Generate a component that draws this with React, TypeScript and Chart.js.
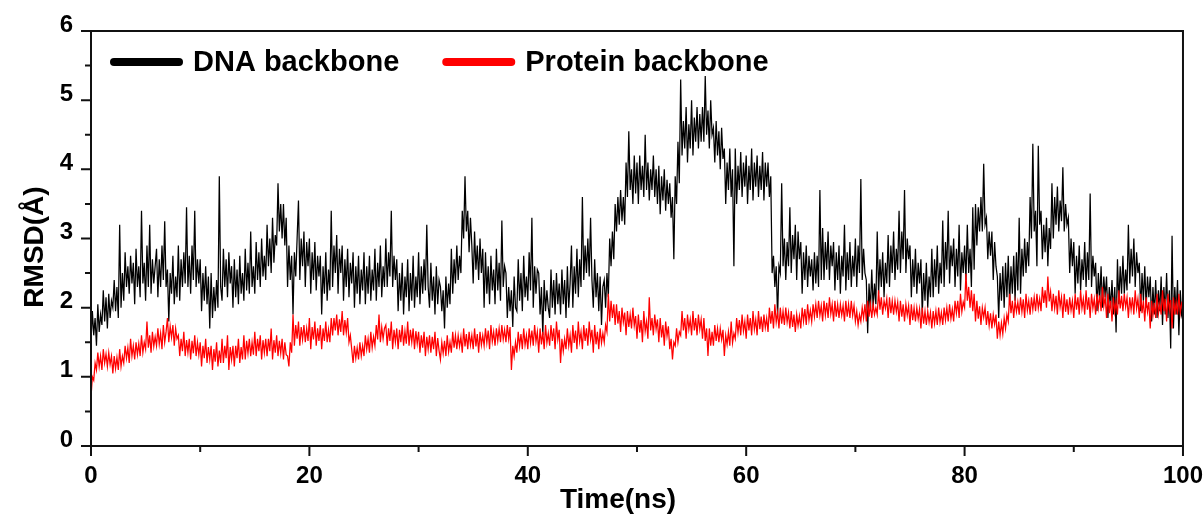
import React, { useEffect, useRef } from "react";
import { Chart, registerables } from "chart.js";

Chart.register(...registerables);

const TIME_STEP_NS = 0.125;
const X_MIN = 0;
const X_MAX = 100;
const Y_MIN = 0;
const Y_MAX = 6;
const X_MAJOR_STEP = 20;
const X_MINOR_STEP = 10;
const Y_MAJOR_STEP = 1;
const Y_MINOR_STEP = 0.5;
const SERIES_LABELS = ["DNA backbone", "Protein backbone"];
const SERIES_COLORS = ["#000000", "#ff0000"];
const X_TITLE = "Time(ns)";
const Y_TITLE = "RMSD(Å)";

const DNA_RMSD = [
  1.5, 1.95, 1.6, 1.85, 1.45, 2.05, 1.65, 1.9,
  1.75, 2.25, 1.8, 2.15, 1.7, 2.2, 1.85, 2.1,
  2.0, 2.4, 1.95, 2.3, 1.85, 3.2, 2.0, 2.5,
  2.1, 2.8, 2.3, 2.6, 2.2, 2.75, 2.35, 2.65,
  2.05, 2.85, 2.3, 2.6, 2.15, 3.4, 2.35, 2.65,
  2.1, 2.9, 2.3, 3.2, 2.2, 2.7, 2.35, 2.6,
  2.85, 2.15, 2.7, 2.3, 2.9, 2.4, 3.25, 2.3,
  2.55, 1.8, 2.5, 2.2, 2.75, 2.05, 2.45, 2.15,
  2.9, 2.1, 2.7, 2.3, 2.8, 2.35, 3.45, 2.3,
  2.75, 2.2, 2.9, 2.4, 3.4, 2.3, 2.7, 2.35,
  2.7, 1.95, 2.5, 2.1, 2.6, 2.05, 2.45, 1.7,
  2.5, 1.85, 2.3, 1.95, 2.4, 2.0, 3.9, 2.3,
  2.1, 2.85, 2.3, 2.7, 2.15, 2.8, 2.35, 2.6,
  2.0, 2.7, 2.15, 2.55, 2.05, 2.75, 2.2, 2.5,
  2.1, 2.85, 2.25, 2.65, 2.2, 3.1, 2.3, 2.6,
  2.2, 2.95, 2.4, 2.8, 2.3, 3.0, 2.45, 2.75,
  2.4, 3.2, 2.6, 3.0, 2.5, 3.3, 2.65, 3.05,
  2.9, 3.8, 3.1, 3.5, 3.0, 3.5, 2.9, 3.3,
  2.3, 2.9, 2.4, 2.75, 1.9, 2.8, 2.45, 3.0,
  3.55, 2.4, 3.0, 2.6, 3.1, 2.3, 2.95, 2.6,
  3.0, 2.2, 2.8, 2.4, 2.95, 2.25, 2.75, 2.45,
  2.75, 1.9, 2.6, 2.2, 2.8, 2.1, 2.55, 2.25,
  3.4, 2.3, 2.9, 2.5, 3.05, 2.2, 2.85, 2.5,
  2.9, 2.1, 2.7, 2.3, 2.85, 2.15, 2.65, 2.35,
  2.8, 2.0, 2.6, 2.2, 2.75, 2.05, 2.55, 2.25,
  2.8, 2.05, 2.6, 2.2, 2.75, 2.1, 2.55, 2.25,
  2.85, 2.1, 2.65, 2.3, 2.9, 2.15, 2.6, 2.3,
  3.0, 2.3, 2.8, 2.45, 3.4, 2.3, 2.75, 2.4,
  2.7, 1.95, 2.5, 2.1, 2.65, 1.9, 2.45, 2.15,
  2.7, 1.95, 2.5, 2.1, 2.75, 2.0, 2.45, 2.15,
  2.8, 2.05, 2.6, 2.2, 2.7, 2.25, 3.2, 2.3,
  2.0, 2.65, 2.1, 2.45, 1.9, 2.6, 2.05, 2.4,
  2.3, 1.95, 2.25, 1.7, 2.45, 2.0, 2.35, 2.05,
  2.85, 2.2, 2.7, 2.35, 2.9, 2.4, 2.75, 2.5,
  3.4, 3.0, 3.9, 3.1, 3.4, 2.8, 3.3, 2.9,
  2.35, 3.1, 2.55, 2.9, 2.4, 3.0, 2.5, 2.85,
  2.0, 2.8, 2.2, 2.6, 2.05, 2.75, 2.25, 2.55,
  2.05, 2.85, 2.25, 2.65, 2.1, 3.26, 2.3, 2.6,
  2.5, 1.85, 2.3, 1.95, 2.25, 1.72, 2.45, 2.0,
  1.95, 2.7, 2.1, 2.5, 1.95, 2.75, 2.15, 2.45,
  2.1, 2.8, 2.25, 3.3, 2.0, 2.6, 2.2, 2.55,
  2.5, 1.9, 2.3, 1.6, 2.4, 1.95, 2.25, 2.0,
  1.85, 2.55, 2.0, 2.4, 1.9, 2.5, 2.05, 2.35,
  1.9, 2.55, 2.05, 2.4, 1.85, 2.6, 2.0, 2.35,
  2.9, 2.0, 2.6, 2.2, 2.85, 2.15, 2.7, 2.3,
  3.6, 2.4, 2.9, 2.5, 3.0, 2.45, 3.3, 2.4,
  2.0, 2.7, 2.15, 2.5, 1.95, 2.45, 1.75, 2.3,
  2.4, 2.0, 2.5, 2.15, 3.0, 2.6, 3.1, 2.7,
  3.5, 3.1, 3.6, 3.2, 3.7, 3.25, 3.6, 3.2,
  4.1, 3.6, 4.55, 3.7, 4.0, 3.5, 4.2, 3.65,
  4.1, 3.5, 4.2, 3.7, 4.05, 3.6, 4.5, 3.7,
  4.1, 3.55, 4.0, 3.7, 4.2, 3.6, 4.0, 3.5,
  4.05, 3.35, 3.9, 3.55, 4.0, 3.4, 3.85, 3.5,
  3.8, 3.3, 3.6, 2.7, 3.9, 3.5, 4.4, 3.8,
  5.3, 4.2, 4.7, 4.3, 4.9, 4.1, 4.65, 4.3,
  5.0, 4.2, 4.75, 4.4, 4.9, 4.3, 4.8, 4.4,
  4.9, 4.4, 5.35, 4.5, 4.85, 4.3, 5.0, 4.5,
  4.6, 4.1, 4.7, 4.2, 4.55, 4.0, 4.6, 4.15,
  4.3, 3.5, 4.1, 3.7, 4.3, 3.6, 4.0, 2.6,
  4.3, 3.5, 4.05, 3.7, 4.25, 3.6, 4.1, 3.75,
  4.2, 3.5, 4.05, 3.7, 4.3, 3.55, 4.1, 3.75,
  4.2, 3.6, 4.05, 3.7, 4.25, 3.55, 4.1, 3.75,
  4.1, 3.6, 3.9, 2.5, 2.75, 2.3, 2.6, 1.86,
  2.6, 2.5, 3.8, 2.6, 3.0, 2.4, 2.95, 2.6,
  3.45, 2.5, 3.05, 2.7, 3.2, 2.4, 3.1, 2.7,
  2.95, 2.2, 2.8, 2.4, 2.9, 2.3, 2.75, 2.45,
  2.7, 2.25, 2.8, 2.35, 2.75, 2.3, 3.7, 2.4,
  3.15, 2.4, 2.95, 2.55, 3.1, 2.4, 2.9, 2.6,
  2.95, 2.25, 2.8, 2.4, 2.9, 2.2, 2.75, 2.45,
  3.2, 2.25, 2.8, 2.4, 2.95, 2.3, 2.75, 2.45,
  3.0, 2.3, 2.9, 2.5, 3.86, 2.4, 2.85, 2.5,
  2.4, 1.63, 2.35, 1.95, 2.55, 2.0, 2.35, 2.05,
  3.1, 2.2, 2.7, 2.3, 2.8, 2.15, 2.65, 2.35,
  3.05, 2.3, 2.9, 2.5, 3.1, 2.4, 2.85, 2.55,
  3.4, 2.5, 3.1, 2.7, 3.7, 2.5, 3.0, 2.7,
  2.9, 2.15, 2.7, 2.3, 2.85, 2.2, 2.65, 2.35,
  2.7, 1.9, 2.5, 2.1, 2.65, 2.0, 2.45, 2.15,
  2.85, 2.15, 2.7, 2.3, 2.9, 2.2, 2.65, 2.35,
  3.26, 2.3, 2.95, 2.55, 3.4, 2.35, 2.9, 2.6,
  3.0, 2.3, 2.85, 2.45, 3.2, 2.25, 2.8, 2.5,
  2.9, 2.4, 3.2, 2.5, 2.85, 2.3, 3.45, 2.55,
  3.5, 2.9, 3.45, 3.1, 3.6, 3.1, 4.08, 3.2,
  3.3, 2.7, 3.1, 2.75, 3.1, 2.4, 2.95, 2.6,
  2.45, 1.85, 2.5, 2.1, 2.6, 2.0, 2.65, 2.15,
  2.75, 2.05, 2.6, 2.2, 2.75, 2.1, 2.8, 2.25,
  3.3, 2.2, 2.85, 2.45, 3.0, 2.5, 2.95, 2.6,
  3.6, 3.0, 4.37, 3.1, 3.4, 2.6, 4.34, 3.2,
  3.4, 2.7, 3.2, 2.8, 3.3, 2.6, 3.15, 2.85,
  3.8, 3.0, 3.6, 3.2, 3.75, 3.1, 3.55, 3.25,
  4.03, 3.1, 3.5, 3.2, 3.3, 2.5, 3.0, 2.6,
  2.95, 2.2, 2.75, 2.35, 2.9, 2.25, 2.7, 2.4,
  2.95, 2.3, 2.8, 2.4, 3.65, 2.3, 2.75, 2.45,
  2.65, 1.95, 2.5, 2.1, 2.6, 2.0, 2.45, 2.15,
  2.45, 1.85, 2.3, 2.0, 2.4, 1.9, 2.3, 1.64,
  2.7, 2.05, 2.6, 2.2, 2.75, 2.2, 2.55, 2.25,
  3.2, 2.35, 2.85, 2.45, 3.0, 2.3, 2.8, 2.5,
  2.65, 1.95, 2.5, 2.1, 2.6, 2.0, 2.45, 2.15,
  2.45, 1.8, 2.3, 1.9, 2.4, 1.85, 2.25, 1.95,
  2.45, 1.75, 2.3, 1.9, 2.5, 1.85, 2.25, 1.41,
  3.04, 1.7, 2.3, 1.9, 2.4, 1.6, 2.25, 1.9,
  2.0,
];

const PROTEIN_RMSD = [
  0.7, 1.0, 0.95, 1.2, 1.1, 1.35, 1.15, 1.3,
  1.1, 1.4, 1.2, 1.33, 1.15, 1.35, 1.18, 1.3,
  1.05, 1.3, 1.12, 1.28, 1.1, 1.4, 1.15, 1.3,
  1.2, 1.45, 1.27, 1.42, 1.2, 1.55, 1.3, 1.45,
  1.25, 1.5, 1.32, 1.48, 1.3, 1.6, 1.35, 1.5,
  1.4, 1.8, 1.42, 1.6, 1.35, 1.65, 1.44, 1.58,
  1.45, 1.7, 1.47, 1.63, 1.4, 1.75, 1.5, 1.65,
  1.85, 1.5, 1.73, 1.57, 1.75, 1.45, 1.7, 1.55,
  1.6, 1.3, 1.55, 1.37, 1.65, 1.3, 1.53, 1.35,
  1.55, 1.25, 1.52, 1.34, 1.6, 1.3, 1.5, 1.32,
  1.5, 1.15, 1.45, 1.27, 1.55, 1.2, 1.43, 1.25,
  1.45, 1.1, 1.4, 1.22, 1.5, 1.15, 1.38, 1.2,
  1.55, 1.2, 1.45, 1.27, 1.6, 1.1, 1.43, 1.25,
  1.45, 1.15, 1.45, 1.27, 1.55, 1.2, 1.43, 1.25,
  1.6, 1.25, 1.52, 1.34, 1.55, 1.3, 1.5, 1.32,
  1.65, 1.3, 1.55, 1.37, 1.6, 1.25, 1.53, 1.35,
  1.55, 1.3, 1.55, 1.37, 1.7, 1.25, 1.53, 1.35,
  1.6, 1.3, 1.52, 1.34, 1.55, 1.25, 1.5, 1.32,
  1.3, 1.15, 1.5, 1.35, 1.9, 1.45, 1.75, 1.55,
  1.8, 1.45, 1.72, 1.54, 1.75, 1.5, 1.7, 1.52,
  1.85, 1.4, 1.72, 1.54, 1.8, 1.45, 1.7, 1.52,
  1.75, 1.4, 1.7, 1.52, 1.8, 1.5, 1.68, 1.5,
  1.85, 1.6, 1.85, 1.67, 1.9, 1.6, 1.83, 1.65,
  1.95, 1.6, 1.82, 1.64, 1.85, 1.5, 1.6, 1.4,
  1.2, 1.45, 1.27, 1.42, 1.25, 1.5, 1.3, 1.45,
  1.3, 1.6, 1.4, 1.55, 1.35, 1.65, 1.42, 1.58,
  1.45, 1.75, 1.54, 1.9, 1.5, 1.72, 1.55, 1.7,
  1.75, 1.45, 1.7, 1.52, 1.8, 1.4, 1.68, 1.5,
  1.7, 1.4, 1.68, 1.5, 1.75, 1.45, 1.66, 1.48,
  1.8, 1.45, 1.68, 1.5, 1.7, 1.4, 1.66, 1.48,
  1.65, 1.35, 1.6, 1.42, 1.65, 1.3, 1.58, 1.4,
  1.6, 1.35, 1.58, 1.4, 1.65, 1.3, 1.56, 1.38,
  1.25, 1.5, 1.34, 1.52, 1.3, 1.6, 1.36, 1.5,
  1.35, 1.65, 1.42, 1.6, 1.4, 1.6, 1.44, 1.58,
  1.35, 1.7, 1.44, 1.62, 1.4, 1.65, 1.46, 1.6,
  1.4, 1.7, 1.44, 1.62, 1.35, 1.65, 1.46, 1.6,
  1.45, 1.7, 1.49, 1.67, 1.4, 1.75, 1.51, 1.65,
  1.45, 1.7, 1.52, 1.7, 1.5, 1.75, 1.54, 1.68,
  1.5, 1.75, 1.55, 1.72, 1.1, 1.45, 1.3, 1.5,
  1.35, 1.65, 1.44, 1.62, 1.4, 1.7, 1.46, 1.6,
  1.4, 1.7, 1.49, 1.67, 1.45, 1.75, 1.51, 1.65,
  1.35, 1.7, 1.47, 1.65, 1.4, 1.75, 1.49, 1.63,
  1.45, 1.75, 1.52, 1.7, 1.4, 1.8, 1.54, 1.68,
  1.2, 1.55, 1.37, 1.55, 1.4, 1.7, 1.45, 1.6,
  1.35, 1.75, 1.49, 1.67, 1.4, 1.8, 1.51, 1.65,
  1.4, 1.75, 1.52, 1.7, 1.45, 1.8, 1.54, 1.68,
  1.35, 1.75, 1.47, 1.65, 1.4, 1.7, 1.49, 1.63,
  1.5, 1.75, 1.65, 2.2, 1.8, 2.1, 1.85, 2.05,
  1.75, 2.05, 1.77, 1.95, 1.65, 2.0, 1.79, 1.93,
  1.6, 1.95, 1.72, 1.9, 1.7, 2.0, 1.74, 1.88,
  1.55, 1.9, 1.64, 1.82, 1.5, 1.95, 1.66, 1.8,
  1.55, 2.15, 1.67, 1.85, 1.6, 1.9, 1.69, 1.83,
  1.5, 1.85, 1.57, 1.75, 1.45, 1.8, 1.59, 1.73,
  1.4, 1.55, 1.25, 1.5, 1.45, 1.7, 1.5, 1.65,
  1.6, 1.95, 1.67, 1.85, 1.55, 1.9, 1.69, 1.83,
  1.6, 1.95, 1.67, 1.85, 1.6, 1.9, 1.69, 1.83,
  1.55, 1.85, 1.52, 1.7, 1.3, 1.7, 1.45, 1.65,
  1.45, 1.75, 1.52, 1.7, 1.5, 1.7, 1.54, 1.68,
  1.3, 1.6, 1.47, 1.65, 1.45, 1.8, 1.49, 1.63,
  1.55, 1.85, 1.64, 1.82, 1.6, 1.9, 1.66, 1.8,
  1.55, 1.9, 1.67, 1.85, 1.6, 1.95, 1.69, 1.83,
  1.6, 1.95, 1.69, 1.87, 1.65, 1.9, 1.71, 1.85,
  1.65, 2.0, 1.77, 1.95, 1.7, 2.05, 1.79, 1.93,
  1.7, 2.0, 1.77, 1.95, 1.75, 2.0, 1.79, 1.93,
  1.7, 1.95, 1.72, 1.9, 1.65, 1.9, 1.74, 1.88,
  1.7, 2.0, 1.8, 1.98, 1.75, 2.05, 1.82, 1.96,
  1.8, 2.05, 1.87, 2.05, 1.85, 2.1, 1.89, 2.03,
  1.8, 2.1, 1.89, 2.07, 1.85, 2.15, 1.91, 2.05,
  1.8, 2.1, 1.87, 2.05, 1.85, 2.05, 1.89, 2.03,
  1.8, 2.1, 1.87, 2.05, 1.85, 2.1, 1.89, 2.03,
  1.8, 1.95, 1.75, 1.9, 1.8, 2.0, 1.85, 2.05,
  1.8, 2.1, 1.87, 2.05, 1.85, 2.05, 1.9, 2.0,
  1.9, 2.25, 1.97, 2.15, 1.9, 2.1, 1.99, 2.13,
  1.85, 2.15, 1.92, 2.1, 1.9, 2.1, 1.94, 2.08,
  1.8, 2.1, 1.87, 2.05, 1.8, 2.05, 1.89, 2.03,
  1.75, 2.05, 1.82, 2.0, 1.8, 2.0, 1.84, 1.98,
  1.7, 2.0, 1.77, 1.95, 1.75, 1.95, 1.79, 1.93,
  1.7, 1.95, 1.77, 1.95, 1.75, 2.0, 1.79, 1.93,
  1.75, 2.0, 1.82, 2.0, 1.8, 2.05, 1.84, 1.98,
  1.8, 2.1, 1.92, 2.1, 1.85, 2.2, 1.94, 2.08,
  2.0, 2.49, 2.1, 2.3, 2.0, 2.25, 1.95, 2.2,
  1.8, 2.1, 1.84, 2.02, 1.75, 2.0, 1.86, 2.0,
  1.75, 1.95, 1.74, 1.92, 1.7, 1.9, 1.76, 1.9,
  1.55, 1.8, 1.6, 1.78, 1.62, 1.85, 1.7, 1.9,
  1.8, 2.2, 1.92, 2.1, 1.85, 2.1, 1.94, 2.08,
  1.9, 2.15, 1.94, 2.12, 1.85, 2.2, 1.96, 2.1,
  1.9, 2.15, 1.97, 2.15, 1.95, 2.2, 1.99, 2.13,
  1.95, 2.3, 2.07, 2.25, 2.0, 2.45, 2.09, 2.23,
  1.95, 2.2, 1.99, 2.17, 1.9, 2.25, 2.01, 2.15,
  1.85, 2.2, 1.94, 2.12, 1.9, 2.15, 1.96, 2.1,
  1.85, 2.2, 1.97, 2.15, 1.9, 2.25, 1.99, 2.13,
  1.9, 2.25, 1.97, 2.15, 1.85, 2.2, 1.99, 2.13,
  1.9, 2.2, 2.0, 2.18, 1.95, 2.3, 2.02, 2.16,
  1.85, 2.2, 1.92, 2.1, 1.8, 2.15, 1.94, 2.08,
  1.9, 2.25, 1.99, 2.17, 1.95, 2.2, 2.01, 2.15,
  1.85, 2.15, 1.97, 2.15, 1.9, 2.25, 1.99, 2.13,
  1.85, 2.2, 1.92, 2.1, 1.8, 2.15, 1.94, 2.08,
  1.7, 2.1, 1.89, 2.07, 1.85, 2.2, 1.91, 2.05,
  1.9, 2.25, 1.95, 2.13, 1.8, 2.2, 1.97, 2.11,
  1.7, 2.15, 1.9, 2.08, 1.9, 2.2, 1.92, 2.06,
  2.0,
];

const FONT = "'Liberation Sans', Arial, Helvetica, sans-serif";
const INK = "#111111";

export default function App() {
  const canvasRef = useRef<HTMLCanvasElement | null>(null);

  useEffect(() => {
    document.body.style.margin = "0";
    const canvas = canvasRef.current;
    if (!canvas) return;

    const toPoints = (arr: number[]) =>
      arr.map((y, i) => ({ x: i * TIME_STEP_NS, y }));

    const decorPlugin = {
      id: "decor",
      afterDraw(chart: any) {
        const { ctx, chartArea: a, scales } = chart;
        const xs = scales.x;
        const ys = scales.y;
        ctx.save();
        // frame
        ctx.strokeStyle = INK;
        ctx.lineWidth = 2;
        ctx.strokeRect(a.left, a.top, a.right - a.left, a.bottom - a.top);
        // tick marks (major + minor)
        ctx.beginPath();
        const nx = Math.round((X_MAX - X_MIN) / X_MINOR_STEP);
        for (let i = 0; i <= nx; i++) {
          const v = X_MIN + i * X_MINOR_STEP;
          const px = xs.getPixelForValue(v);
          const major = Math.abs(v / X_MAJOR_STEP - Math.round(v / X_MAJOR_STEP)) < 1e-6;
          ctx.moveTo(px, a.bottom);
          ctx.lineTo(px, a.bottom + (major ? 10 : 6));
        }
        const ny = Math.round((Y_MAX - Y_MIN) / Y_MINOR_STEP);
        for (let i = 0; i <= ny; i++) {
          const v = Y_MIN + i * Y_MINOR_STEP;
          const py = ys.getPixelForValue(v);
          const major = Math.abs(v / Y_MAJOR_STEP - Math.round(v / Y_MAJOR_STEP)) < 1e-6;
          ctx.moveTo(a.left, py);
          ctx.lineTo(a.left - (major ? 10 : 6), py);
        }
        ctx.stroke();

        // legend inside plot
        ctx.font = `bold 29px ${FONT}`;
        ctx.textBaseline = "middle";
        ctx.textAlign = "left";
        let lx = a.left + 19;
        const ly = a.top + 31;
        chart.data.datasets.forEach((ds: any) => {
          ctx.strokeStyle = ds.borderColor;
          ctx.lineWidth = 8;
          ctx.lineCap = "round";
          ctx.beginPath();
          ctx.moveTo(lx + 4, ly);
          ctx.lineTo(lx + 69, ly);
          ctx.stroke();
          ctx.fillStyle = "#000";
          ctx.fillText(ds.label, lx + 83, ly + 1);
          lx += 83 + ctx.measureText(ds.label).width + 43;
        });

        // axis titles
        ctx.fillStyle = "#000";
        ctx.font = `bold 28px ${FONT}`;
        ctx.textAlign = "center";
        ctx.textBaseline = "alphabetic";
        ctx.fillText(X_TITLE, 618, 508);
        ctx.translate(43, 247);
        ctx.rotate(-Math.PI / 2);
        ctx.fillText(Y_TITLE, 0, 0);
        ctx.restore();
      },
    };

    const chart = new Chart(canvas, {
      type: "line",
      data: {
        datasets: [
          {
            label: SERIES_LABELS[0],
            data: toPoints(DNA_RMSD),
            borderColor: SERIES_COLORS[0],
            backgroundColor: SERIES_COLORS[0],
            borderWidth: 1.25,
            pointRadius: 0,
            tension: 0,
            order: 1,
          },
          {
            label: SERIES_LABELS[1],
            data: toPoints(PROTEIN_RMSD),
            borderColor: SERIES_COLORS[1],
            backgroundColor: SERIES_COLORS[1],
            borderWidth: 1.25,
            pointRadius: 0,
            tension: 0,
            order: 0,
          },
        ],
      },
      plugins: [decorPlugin],
      options: {
        animation: false,
        responsive: false,
        devicePixelRatio: 1,
        layout: { padding: { top: 31, right: 20, left: 0, bottom: 0 } },
        plugins: {
          legend: { display: false },
          tooltip: { enabled: false },
        },
        scales: {
          x: {
            type: "linear",
            min: X_MIN,
            max: X_MAX,
            grid: { display: false, drawTicks: true, tickLength: 16 },
            border: { display: false },
            afterFit(scale: any) {
              scale.height = 71;
            },
            ticks: {
              stepSize: X_MAJOR_STEP,
              color: "#000",
              padding: 0,
              maxRotation: 0,
              font: { family: FONT, size: 24, weight: "bold" },
            },
          },
          y: {
            type: "linear",
            min: Y_MIN,
            max: Y_MAX,
            grid: { display: false, drawTicks: true, tickLength: 18 },
            border: { display: false },
            afterFit(scale: any) {
              scale.width = 91;
            },
            ticks: {
              stepSize: Y_MAJOR_STEP,
              color: "#000",
              padding: 0,
              labelOffset: -6,
              font: { family: FONT, size: 24, weight: "bold" },
            },
          },
        },
      },
    } as any);

    return () => chart.destroy();
  }, []);

  return (
    <div style={{ width: 1203, height: 517, background: "#fff" }}>
      <canvas ref={canvasRef} width={1203} height={517} style={{ display: "block" }} />
    </div>
  );
}
